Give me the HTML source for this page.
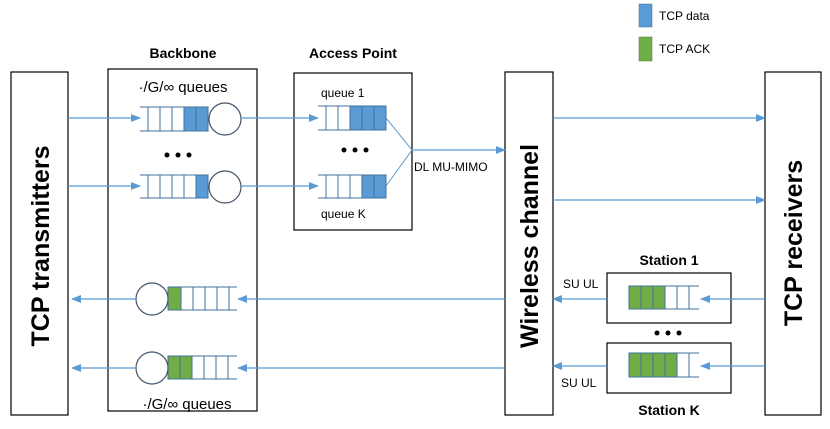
<!DOCTYPE html>
<html><head><meta charset="utf-8"><style>body{margin:0;background:#fff}</style></head><body>
<svg width="830" height="424" viewBox="0 0 830 424" xmlns="http://www.w3.org/2000/svg" font-family="Liberation Sans, DejaVu Sans, sans-serif">
<defs><marker id="a" markerWidth="10" markerHeight="8" refX="9" refY="4" orient="auto" markerUnits="userSpaceOnUse"><path d="M0,0 L10,4 L0,8 z" fill="#5b9bd5"/></marker></defs>
<g fill="none" stroke="#000" stroke-width="1.2">
<rect x="11" y="72" width="57" height="343"/>
<rect x="108" y="69" width="149" height="342"/>
<rect x="294" y="73" width="118" height="157"/>
<rect x="505" y="72" width="48" height="343"/>
<rect x="765" y="72" width="56" height="343"/>
<rect x="607" y="273" width="124" height="50"/>
<rect x="607" y="343" width="124" height="50"/>
</g>
<rect x="639" y="4" width="13" height="23" fill="#5b9bd5" stroke="#41719c" stroke-width="0.5"/>
<rect x="639" y="37" width="13" height="24" fill="#70ad47" stroke="#507e32" stroke-width="0.5"/>
<text x="659" y="20" font-size="12">TCP data</text>
<text x="659" y="53" font-size="12">TCP ACK</text>
<text x="183" y="58" font-size="14" font-weight="bold" text-anchor="middle">Backbone</text>
<text x="353" y="58" font-size="14" font-weight="bold" text-anchor="middle">Access Point</text>
<text x="669" y="265" font-size="14" font-weight="bold" text-anchor="middle">Station 1</text>
<text x="669" y="415" font-size="14" font-weight="bold" text-anchor="middle">Station K</text>
<text x="183" y="92" font-size="15" text-anchor="middle">·/G/∞ queues</text>
<text x="187" y="409" font-size="15" text-anchor="middle">·/G/∞ queues</text>
<text x="321" y="97" font-size="12">queue 1</text>
<text x="321" y="218" font-size="12">queue K</text>
<text x="414" y="171" font-size="12">DL MU-MIMO</text>
<text x="563" y="288" font-size="12">SU UL</text>
<text x="561" y="387" font-size="12">SU UL</text>
<g font-size="25" font-weight="bold" text-anchor="middle">
<text transform="translate(49,246) rotate(-90)">TCP transmitters</text>
<text transform="translate(538,246) rotate(-90)">Wireless channel</text>
<text transform="translate(802,243) rotate(-90)">TCP receivers</text>
</g>
<g fill="#000"><circle cx="167" cy="155" r="2.5"/><circle cx="178" cy="155" r="2.5"/><circle cx="189" cy="155" r="2.5"/>
<circle cx="344" cy="150" r="2.5"/><circle cx="355" cy="150" r="2.5"/><circle cx="366" cy="150" r="2.5"/>
<circle cx="657" cy="333" r="2.5"/><circle cx="668" cy="333" r="2.5"/><circle cx="679" cy="333" r="2.5"/></g>
<g stroke="#41719c" stroke-width="1">
<rect x="184" y="107" width="24" height="24" fill="#5b9bd5"/>
<rect x="196" y="175" width="12" height="23" fill="#5b9bd5"/>
<rect x="350" y="106" width="36" height="24" fill="#5b9bd5"/>
<rect x="362" y="175" width="24" height="23" fill="#5b9bd5"/>
<rect x="168" y="287" width="13" height="23" fill="#70ad47" stroke="#507e32"/>
<rect x="168" y="356" width="24" height="23" fill="#70ad47" stroke="#507e32"/>
<rect x="629" y="286" width="36" height="23" fill="#70ad47"/>
<rect x="629" y="353" width="48" height="24" fill="#70ad47"/>
</g>
<g stroke="#41719c" stroke-width="1" fill="none">
<path d="M140,107H208V131H140M148,107V131M160,107V131M172,107V131M184,107V131M196,107V131"/>
<path d="M140,175H208V198H140M148,175V198M160,175V198M172,175V198M184,175V198M196,175V198"/>
<path d="M318,106H386V130H318M326,106V130M338,106V130M350,106V130M362,106V130M374,106V130"/>
<path d="M318,175H386V198H318M326,175V198M338,175V198M350,175V198M362,175V198M374,175V198"/>
<path d="M237,287H168V310H237M181,287V310M193,287V310M205,287V310M217,287V310M229,287V310"/>
<path d="M237,356H168V379H237M180,356V379M192,356V379M204,356V379M216,356V379M228,356V379"/>
<path d="M699,286H629V309H699M641,286V309M653,286V309M665,286V309M677,286V309M689,286V309"/>
<path d="M699,353H629V377H699M641,353V377M653,353V377M665,353V377M677,353V377M689,353V377"/>
</g>
<g fill="#fff" stroke="#44546a" stroke-width="1.2">
<circle cx="225" cy="119" r="16"/><circle cx="225" cy="187" r="16"/>
<circle cx="152" cy="299" r="16"/><circle cx="152" cy="368" r="16"/>
</g>
<g stroke="#5b9bd5" stroke-width="1.3" fill="none" marker-end="url(#a)">
<line x1="68" y1="118" x2="140" y2="118"/><line x1="68" y1="186" x2="140" y2="186"/>
<line x1="241" y1="118" x2="318" y2="118"/><line x1="241" y1="186" x2="318" y2="186"/>
<line x1="412" y1="150" x2="505" y2="150"/>
<line x1="553" y1="118" x2="765" y2="118"/><line x1="553" y1="200" x2="765" y2="200"/>
<line x1="765" y1="299" x2="701" y2="299"/><line x1="765" y1="366" x2="701" y2="366"/>
<line x1="607" y1="299" x2="553" y2="299"/><line x1="607" y1="366" x2="553" y2="366"/>
<line x1="505" y1="299" x2="238" y2="299"/><line x1="505" y1="368" x2="238" y2="368"/>
<line x1="136" y1="299" x2="72" y2="299"/><line x1="136" y1="368" x2="72" y2="368"/>
</g>
<path d="M386,118L412,150L386,186" stroke="#5b9bd5" stroke-width="1" fill="none"/>
</svg>
</body></html>
